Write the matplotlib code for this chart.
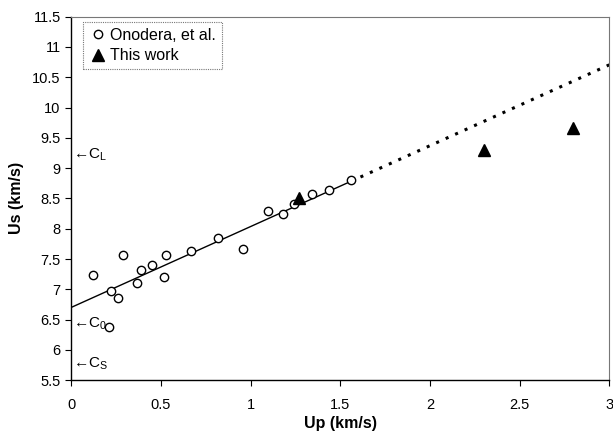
import numpy as np
import matplotlib
matplotlib.use('Agg')
import matplotlib.pyplot as plt

plt.rcParams['font.family'] = ['Liberation Sans', 'DejaVu Sans']

# Onodera, et al. data (Up, Us)
onodera_up = [0.12, 0.22, 0.26, 0.29, 0.21, 0.37, 0.39, 0.45, 0.53, 0.52,
              0.67, 0.82, 0.96, 1.10, 1.18, 1.24, 1.34, 1.44, 1.56]
onodera_us = [7.24, 6.98, 6.85, 7.56, 6.37, 7.10, 7.32, 7.40, 7.57, 7.20,
              7.63, 7.85, 7.67, 8.29, 8.25, 8.40, 8.58, 8.64, 8.80]

# this work
work_up = [1.27, 2.30, 2.80]
work_us = [8.51, 9.30, 9.66]

# linear fit Us = c0 + s*Up
fit_c0 = 6.70
fit_s = 1.335
fit_end = 1.56

# sound speeds marked on the axis
speed_names = ['L', '0', 'S']
speed_vals = [9.22, 6.44, 5.78]

fig = plt.figure(figsize=(6.13, 4.38), dpi=100)
ax = fig.add_axes([0.116, 0.132, 0.878, 0.83])

x1 = np.array([0, fit_end])
ax.plot(x1, fit_c0 + fit_s * x1, color='black', linewidth=1.0, zorder=2)
x2 = np.array([fit_end, 3.0])
ax.plot(x2, fit_c0 + fit_s * x2, color='black', linewidth=2.2,
        linestyle=(0, (1.0, 2.4)), zorder=2)

ax.plot(onodera_up, onodera_us, 'o', markersize=6, markerfacecolor='white',
        markeredgecolor='black', markeredgewidth=1.0, linestyle='none',
        label='Onodera, et al.', zorder=3)
ax.plot(work_up, work_us, '^', markersize=8.5, color='black', linestyle='none',
        label='This work', zorder=4)

for name, v in zip(speed_names, speed_vals):
    ax.text(0.012, v, '\u2190C$_{\\mathregular{%s}}$' % name,
            fontsize=11, va='center', ha='left')

ax.set_xlim(0, 3)
ax.set_ylim(5.5, 11.5)
ax.set_xticks(np.arange(0, 3.01, 0.5))
ax.set_xticklabels(['0', '0.5', '1', '1.5', '2', '2.5', '3'])
ax.set_yticks(np.arange(5.5, 11.51, 0.5))
ax.set_yticklabels(['5.5', '6', '6.5', '7', '7.5', '8', '8.5', '9', '9.5',
                    '10', '10.5', '11', '11.5'])
ax.tick_params(labelsize=10.5, length=4, width=0.8, direction='out')
ax.tick_params(axis='x', pad=9)

for s in ['top', 'right']:
    ax.spines[s].set_linestyle((0, (1, 1)))
    ax.spines[s].set_color('#777777')
    ax.spines[s].set_linewidth(0.8)
ax.spines['left'].set_linewidth(1.0)
ax.spines['bottom'].set_linewidth(1.0)

ax.set_xlabel('Up (km/s)', fontsize=11.5, fontweight='bold', labelpad=3)
ax.set_ylabel('Us (km/s)', fontsize=11.5, fontweight='bold', labelpad=6)

leg = ax.legend(loc='upper left', bbox_to_anchor=(0.022, 0.985), fontsize=11.5,
                frameon=True, fancybox=False, handletextpad=0.15,
                handlelength=1.2, borderpad=0.35, labelspacing=0.35,
                borderaxespad=0)
leg.get_frame().set_edgecolor('#555555')
leg.get_frame().set_linestyle((0, (1, 1)))
leg.get_frame().set_linewidth(0.8)

plt.savefig('out.png', dpi=100)
